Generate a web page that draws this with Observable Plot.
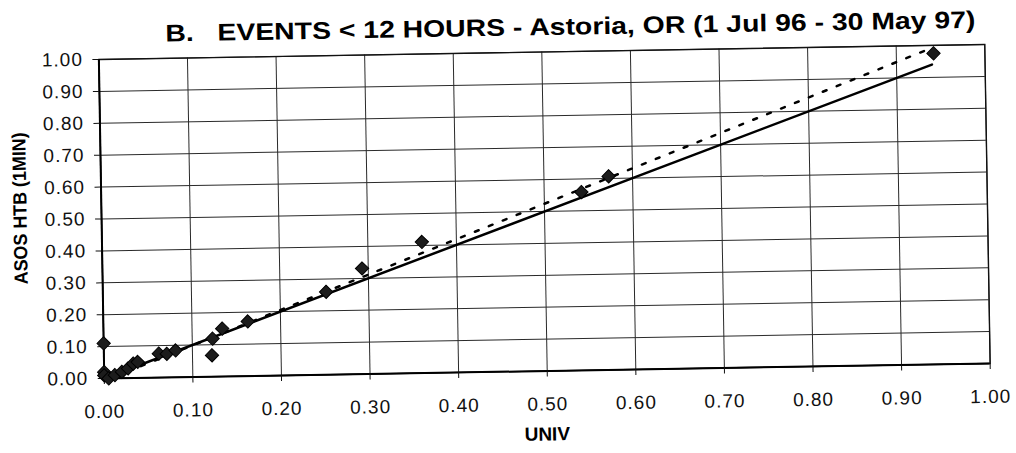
<!DOCTYPE html>
<html><head><meta charset="utf-8">
<script src="https://cdn.jsdelivr.net/npm/d3@7"></script>
<script src="https://cdn.jsdelivr.net/npm/@observablehq/plot@0.6"></script>
<style>
html,body{margin:0;padding:0;background:#fff;}
#chart{position:absolute;left:0;top:0;width:1016px;height:453px;transform:rotate(-0.97deg);transform-origin:544px 211px;}
#chart g[aria-label="x-axis tick label"] text, #chart g[aria-label="y-axis tick label"] text{letter-spacing:1px;}
</style></head><body><div id="chart"></div>
<script>
const titleText = "B.   EVENTS < 12 HOURS - Astoria, OR (1 Jul 96 - 30 May 97)";
const xLabel = "UNIV";
const yLabel = "ASOS HTB (1MIN)";
const tickValues = [0, 0.1, 0.2, 0.3, 0.4, 0.5, 0.6, 0.7, 0.8, 0.9, 1.0];
const univ = [0, 0, 0, 0.005, 0.012, 0.02, 0.027, 0.033, 0.038, 0.062, 0.071, 0.081, 0.122, 0.123, 0.134, 0.163, 0.252, 0.293, 0.361, 0.542, 0.573, 0.942];
const asos = [0.11, 0.02, 0.01, 0.0, 0.01, 0.02, 0.03, 0.045, 0.05, 0.075, 0.074, 0.084, 0.067, 0.119, 0.150, 0.171, 0.260, 0.331, 0.411, 0.559, 0.607, 0.975];
const solidX = [0, 0.94];
const solidY = [0, 0.94];
const dottedX = [0.01, 0.94];
const dottedY = [0.003, 0.992];

const points = univ.map((u, i) => ({u, a: asos[i]}));
const solid = solidX.map((x, i) => ({x, y: solidY[i]}));
const dotted = dottedX.map((x, i) => ({x, y: dottedY[i]}));
const fmt = d => d.toFixed(2);

const chart = Plot.plot({
  width: 1016,
  height: 453,
  marginLeft: 101,
  marginRight: 29,
  marginTop: 51.5,
  marginBottom: 82.5,
  x: {domain: [0, 1]},
  y: {domain: [0, 1]},
  style: {fontFamily: "'Liberation Sans', Arial, sans-serif", background: "#fff", color: "#111"},
  marks: [
    Plot.gridX(tickValues, {stroke: "#2a2a2a", strokeOpacity: 1, strokeWidth: 1}),
    Plot.gridY(tickValues, {stroke: "#2a2a2a", strokeOpacity: 1, strokeWidth: 1}),
    Plot.frame({stroke: "#111", strokeWidth: 1.4}),
    Plot.ruleX([0], {stroke: "#000", strokeWidth: 2}),
    Plot.ruleY([0], {stroke: "#000", strokeWidth: 2}),
    Plot.axisX(tickValues, {tickFormat: fmt, tickSize: 6, tickPadding: 20, fontSize: 19, label: null, stroke: "#111"}),
    Plot.axisY(tickValues, {tickFormat: fmt, tickSize: 6, tickPadding: 10, fontSize: 19, label: null, stroke: "#111"}),
    Plot.line(dotted, {x: "x", y: "y", stroke: "#000", strokeWidth: 2.5, strokeDasharray: "4,11"}),
    Plot.line(solid, {x: "x", y: "y", stroke: "#000", strokeWidth: 2.5}),
    Plot.dot(points, {x: "u", y: "a", symbol: "diamond2", r: 6, fill: "#1c1c1c", stroke: "#000", strokeWidth: 1}),
    Plot.text([titleText], {frameAnchor: "top", dx: 29, dy: -34, fontSize: 24, fontWeight: "bold", fontFamily: "'Liberation Sans Narrow', 'Arial Narrow', 'Liberation Sans', Arial, sans-serif", fill: "#000"}),
    Plot.text([xLabel], {frameAnchor: "bottom", dx: -1, dy: 69.5, fontSize: 19, fontWeight: "bold", fill: "#000"}),
    Plot.text([yLabel], {frameAnchor: "left", dx: -81, dy: -12, rotate: -90, textAnchor: "middle", fontSize: 19, fontWeight: "bold", fill: "#000"})
  ]
});
document.getElementById("chart").appendChild(chart);
chart.querySelectorAll("text").forEach(t => {
  if (t.textContent === titleText) {
    t.setAttribute("textLength", "810");
    t.setAttribute("lengthAdjust", "spacingAndGlyphs");
    t.style.whiteSpace = "pre";
  }
  if (t.textContent === yLabel) {
    t.setAttribute("textLength", "152");
    t.setAttribute("lengthAdjust", "spacingAndGlyphs");
  }
});
</script></body></html>
